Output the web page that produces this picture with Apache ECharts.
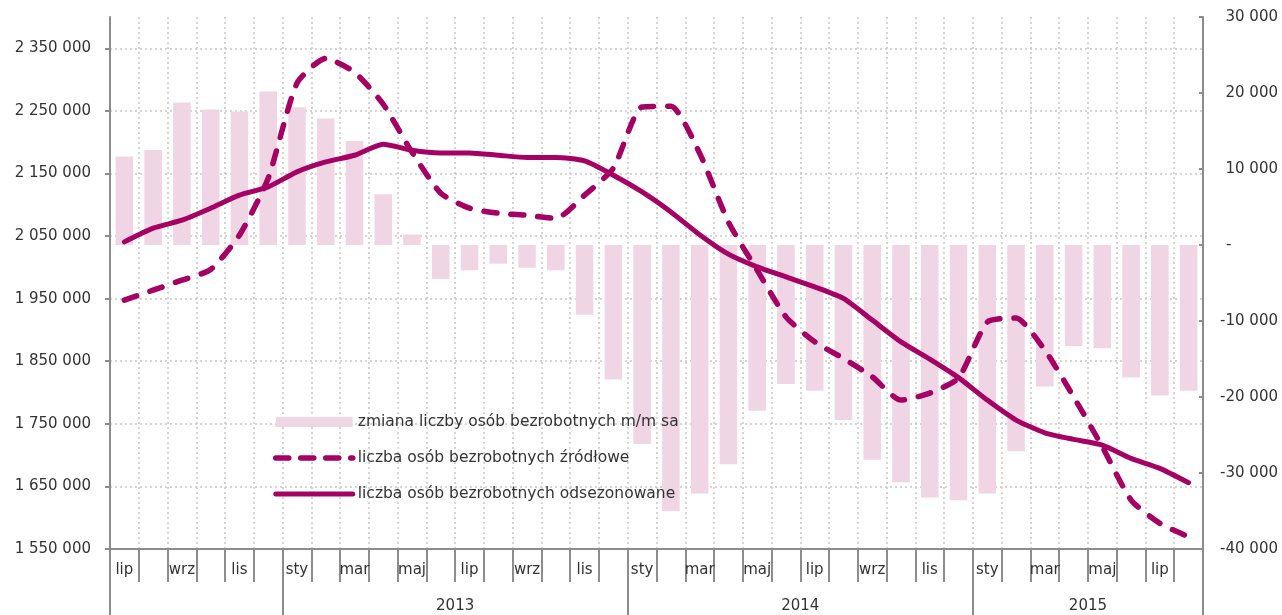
<!DOCTYPE html>
<html>
<head>
<meta charset="utf-8">
<script src="https://cdn.jsdelivr.net/npm/echarts@6/dist/echarts.min.js"></script>
<style>
  html, body { margin: 0; padding: 0; background: #fff; }
  #chart { width: 1282px; height: 615px; }
</style>
</head>
<body>
<div id="chart"></div>
<script>
// months lip 2012 - sie 2015
var months = ['lip','sie','wrz','paź','lis','gru',
  'sty','lut','mar','kwi','maj','cze','lip','sie','wrz','paź','lis','gru',
  'sty','lut','mar','kwi','maj','cze','lip','sie','wrz','paź','lis','gru',
  'sty','lut','mar','kwi','maj','cze','lip','sie'];

// zmiana m/m sa (prawa oś)
var changeMm = [11630, 12510, 18740, 17820, 17550, 20190,
  18130, 16630, 13700, 6680, 1380, -4480, -3330, -2460, -2990, -3330, -9180, -17690,
  -26200, -35000, -32700, -28840, -21820, -18300, -19190, -23040, -28270, -31210, -33220, -33580,
  -32700, -27130, -18610, -13300, -13600, -17420, -19790, -19190];

// liczba bezrobotnych źródłowe
var rawCount = [1947600, 1963600, 1979500, 1996600, 2051400, 2142400,
  2294100, 2334000, 2311700, 2260600, 2183900, 2118500, 2094500, 2086500, 2083300, 2078100, 2115300, 2158400,
  2256300, 2257400, 2182300, 2072200, 1995500, 1920900, 1881000, 1854500, 1825100, 1787900, 1799100, 1823100,
  1912500, 1918900, 1867800, 1793200, 1713400, 1628200, 1591000, 1569600];

// liczba bezrobotnych odsezonowane
var saCount = [2040700, 2062600, 2075300, 2094500, 2115300, 2128500,
  2152500, 2168400, 2179100, 2196700, 2187100, 2182800, 2182800, 2179100, 2175500, 2175500, 2170000, 2147200,
  2120500, 2088600, 2052200, 2021100, 2000800, 1984800, 1968800, 1950300, 1915700, 1881000, 1853400, 1823800,
  1787900, 1756000, 1735700, 1725200, 1716100, 1694800, 1678900, 1655900];

// year row: boundaries and label positions (in month units)
var yearBounds = [0, 6, 18, 30, 38];
var yearLabelPos = [12, 24, 34];
var yearNames = {12: '2013', 24: '2014', 34: '2015'};

var names = ['zmiana liczby osób bezrobotnych m/m sa',
  'liczba osób bezrobotnych źródłowe',
  'liczba osób bezrobotnych odsezonowane'];

var FONT = 'DejaVu Sans';
var TXT = '#333';
var AX = '#8c8c8c';
var MAG = '#a50064';
var PINK = '#f0d5e4';
var GRIDC = '#c8c8c8';

function spaced(v) {
  var s = String(Math.abs(v)).replace(/\B(?=(\d{3})+(?!\d))/g, ' ');
  return (v < 0 ? '-' : '') + s;
}

var option = {
  animation: false,
  textStyle: { fontFamily: FONT },
  legend: {
    orient: 'vertical',
    left: 268,
    top: 409,
    itemWidth: 77,
    itemHeight: 10,
    itemGap: 20,
    textStyle: { fontFamily: FONT, fontSize: 15.5, color: TXT },
    data: [
      { name: names[0], icon: 'rect' },
      { name: names[1], itemStyle: { opacity: 0 },
        lineStyle: { width: 5.5, color: MAG, type: [13, 12], cap: 'round' } },
      { name: names[2], itemStyle: { opacity: 0 },
        lineStyle: { width: 5, color: MAG, cap: 'round' } }
    ]
  },
  grid: [
    { left: 110, right: 79, top: 17, bottom: 66, outerBoundsMode: 'none' },
    { left: 110, right: 79, top: 17, bottom: 66, outerBoundsMode: 'none' }
  ],
  xAxis: [
    {
      type: 'category',
      gridIndex: 0,
      data: months,
      boundaryGap: true,
      axisLine: { onZero: false, lineStyle: { color: AX, width: 2 } },
      axisTick: { show: true, interval: 0, length: 33, lineStyle: { color: AX, width: 2 } },
      axisLabel: { interval: 1, margin: 14, fontSize: 15, color: TXT, fontFamily: FONT },
      splitLine: { show: true, interval: 0, lineStyle: { color: GRIDC, type: [2, 3], width: 1.5 } }
    },
    {
      type: 'value',
      gridIndex: 1,
      min: 0,
      max: 38,
      axisLine: { show: false, onZero: false },
      axisTick: { show: true, length: 66, customValues: yearBounds, lineStyle: { color: AX, width: 2 } },
      axisLabel: {
        customValues: yearLabelPos, margin: 50, fontSize: 15, color: TXT, fontFamily: FONT,
        formatter: function (v) { return yearNames[v] || ''; }
      },
      splitLine: { show: false }
    }
  ],
  yAxis: [
    {
      type: 'value',
      gridIndex: 0,
      position: 'left',
      min: 1550000,
      max: 2400000,
      interval: 100000,
      axisLine: { show: true, lineStyle: { color: AX, width: 2 } },
      axisTick: { show: true, length: 5, lineStyle: { color: AX, width: 2 } },
      axisLabel: { margin: 19, fontSize: 15, color: TXT, fontFamily: FONT, showMaxLabel: false,
        formatter: function (v) { return spaced(v); } },
      splitLine: { show: true, showMaxLine: false, lineStyle: { color: GRIDC, type: [2, 3], width: 1.5 } }
    },
    {
      type: 'value',
      gridIndex: 0,
      position: 'right',
      min: -40000,
      max: 30000,
      interval: 10000,
      axisLine: { show: true, lineStyle: { color: AX, width: 2 } },
      axisTick: { show: true, inside: true, length: 4, lineStyle: { color: AX, width: 2 } },
      axisLabel: {
        margin: 75, align: 'right', fontSize: 15, color: TXT, fontFamily: FONT,
        formatter: function (v) { return v === 0 ? '{z|-}' : spaced(v); },
        rich: { z: { width: 52, align: 'left', fontSize: 15, fontFamily: FONT, color: TXT } }
      },
      splitLine: { show: false }
    },
    {
      type: 'value',
      gridIndex: 1,
      show: false
    }
  ],
  series: [
    {
      name: names[0],
      type: 'bar',
      xAxisIndex: 0,
      yAxisIndex: 1,
      data: changeMm,
      barWidth: '61%',
      itemStyle: { color: PINK },
      z: 1
    },
    {
      name: names[1],
      type: 'line',
      xAxisIndex: 0,
      yAxisIndex: 0,
      data: rawCount,
      symbol: 'none',
      smooth: 0.2,
      lineStyle: { color: MAG, width: 5.5, type: [13, 14], cap: 'round', join: 'round' },
      itemStyle: { color: MAG },
      z: 3
    },
    {
      name: names[2],
      type: 'line',
      xAxisIndex: 0,
      yAxisIndex: 0,
      data: saCount,
      symbol: 'none',
      smooth: 0.2,
      lineStyle: { color: MAG, width: 5, cap: 'round', join: 'round' },
      itemStyle: { color: MAG },
      z: 4
    }
  ]
};

var myChart = echarts.init(document.getElementById('chart'));
myChart.setOption(option);
</script>
</body>
</html>
